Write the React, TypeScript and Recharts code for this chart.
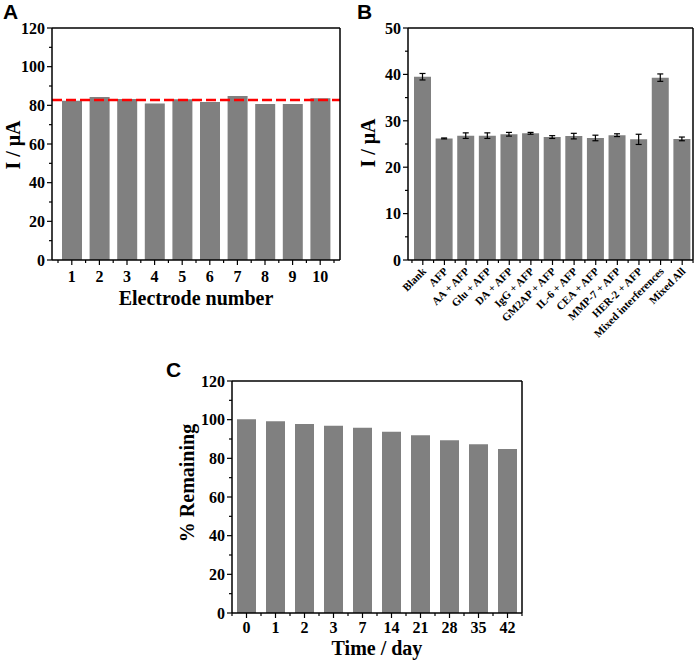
import { BarChart, Bar, XAxis, YAxis, ReferenceLine, ErrorBar } from 'recharts'

const electrodeLabels = ['1', '2', '3', '4', '5', '6', '7', '8', '9', '10']
const electrodeCurrent = [82.4, 84.3, 83.3, 81.0, 83.2, 81.7, 84.8, 80.7, 80.7, 83.6]
const averageCurrent = 82.7

const selectivityLabels = [
  'Blank', 'AFP', 'AA + AFP', 'Glu + AFP', 'DA + AFP', 'IgG + AFP', 'GM2AP + AFP',
  'IL-6 + AFP', 'CEA + AFP', 'MMP-7 + AFP', 'HER-2 + AFP', 'Mixed interferences', 'Mixed All',
]
const selectivityCurrent = [39.5, 26.2, 26.8, 26.8, 27.1, 27.3, 26.5, 26.7, 26.3, 26.9, 26.0, 39.3, 26.1]
const selectivityError = [0.7, 0.1, 0.6, 0.6, 0.4, 0.2, 0.3, 0.6, 0.6, 0.3, 1.1, 0.8, 0.4]

const stabilityDays = ['0', '1', '2', '3', '7', '14', '21', '28', '35', '42']
const stabilityRemaining = [100.2, 99.2, 97.8, 96.8, 95.8, 93.7, 92.0, 89.4, 87.3, 84.8]

const ticks120 = [0, 10, 20, 30, 40, 50, 60, 70, 80, 90, 100, 110, 120]
const ticks50 = [0, 5, 10, 15, 20, 25, 30, 35, 40, 45, 50]

const SERIF = '"Liberation Serif", "Times New Roman", serif'
const SANS = '"Liberation Sans", Arial, sans-serif'
const BAR = '#808080'
const AXIS = { stroke: '#000', strokeWidth: 1.5 }

const dataA = electrodeLabels.map((name, i) => ({ name, value: electrodeCurrent[i] }))
const dataB = selectivityLabels.map((name, i) => ({ name, value: selectivityCurrent[i], err: selectivityError[i] }))
const dataC = stabilityDays.map((name, i) => ({ name, value: stabilityRemaining[i] }))

// y ticks: long + label on major, short on minor
const yTick = (step: number) => (props: any) => {
  const { x, y, payload } = props
  const major = payload.value % step === 0
  return (
    <g>
      <line x1={x} x2={x - (major ? 5 : 3)} y1={y} y2={y} stroke="#000" strokeWidth={1.2} />
      {major && (
        <text x={x - 7} y={y} dy="0.36em" textAnchor="end" fontFamily={SERIF} fontWeight="bold" fontSize={16} fill="#000">
          {payload.value}
        </text>
      )}
    </g>
  )
}

// x ticks: major at the bar, minor half a band either side
const xTick = (band: number, count: number, labelDy: number, rotated = false) => (props: any) => {
  const { x, y, payload, index } = props
  return (
    <g>
      <line x1={x} x2={x} y1={y} y2={y + 5} stroke="#000" strokeWidth={1.2} />
      <line x1={x - band / 2} x2={x - band / 2} y1={y} y2={y + 3} stroke="#000" strokeWidth={1.2} />
      {index === count - 1 && (
        <line x1={x + band / 2} x2={x + band / 2} y1={y} y2={y + 3} stroke="#000" strokeWidth={1.2} />
      )}
      {rotated ? (
        <text
          x={x + 4}
          y={y + labelDy}
          textAnchor="end"
          transform={`rotate(-45, ${x + 4}, ${y + labelDy})`}
          fontFamily={SERIF}
          fontWeight="bold"
          fontSize={11}
          fill="#000"
        >
          {payload.value}
        </text>
      ) : (
        <text x={x} y={y + labelDy} textAnchor="middle" fontFamily={SERIF} fontWeight="bold" fontSize={16} fill="#000">
          {payload.value}
        </text>
      )}
    </g>
  )
}

export default function App() {
  return (
    <div style={{ position: 'absolute', left: 0, top: 0, width: 699, height: 663, background: '#fff' }}>
      <div style={{ position: 'absolute', left: 0, top: 0 }}>
        <BarChart width={350} height={320} data={dataA} margin={{ top: 27, right: 9, bottom: 0, left: 0 }}>
          <XAxis dataKey="name" height={60} padding={{ left: 6, right: 6 }} interval={0} tickSize={0} tickMargin={0}
            tickLine={false} axisLine={AXIS} tick={xTick(27.6, 10, 22)} />
          <YAxis width={52} domain={[0, 120]} ticks={ticks120} interval={0} tickSize={0} tickMargin={0}
            tickLine={false} axisLine={AXIS} tick={yTick(20)} />
          <XAxis xAxisId="top" orientation="top" dataKey="name" height={1} tick={false} tickLine={false} axisLine={AXIS} />
          <YAxis yAxisId="right" orientation="right" width={1} domain={[0, 120]} tick={false} tickLine={false} axisLine={AXIS} />
          <Bar dataKey="value" fill={BAR} barSize={20} isAnimationActive={false} />
          <ReferenceLine y={averageCurrent} stroke="#ff0000" strokeWidth={2.5} strokeDasharray="10 4" />
        </BarChart>
      </div>

      <div style={{ position: 'absolute', left: 350, top: 0 }}>
        <BarChart width={349} height={340} data={dataB} margin={{ top: 27, right: 5, bottom: 0, left: 0 }}>
          <XAxis dataKey="name" height={80} padding={{ left: 4, right: 0 }} interval={0} tickSize={0} tickMargin={0}
            tickLine={false} axisLine={AXIS} tick={xTick(21.7, 13, 12, true)} />
          <YAxis width={58} domain={[0, 50]} ticks={ticks50} interval={0} tickSize={0} tickMargin={0}
            tickLine={false} axisLine={AXIS} tick={yTick(10)} />
          <XAxis xAxisId="top" orientation="top" dataKey="name" height={1} tick={false} tickLine={false} axisLine={AXIS} />
          <YAxis yAxisId="right" orientation="right" width={1} domain={[0, 50]} tick={false} tickLine={false} axisLine={AXIS} />
          <Bar dataKey="value" fill={BAR} barSize={17} isAnimationActive={false}>
            <ErrorBar dataKey="err" width={3} stroke="#000" strokeWidth={1.2} />
          </Bar>
        </BarChart>
      </div>

      <div style={{ position: 'absolute', left: 180, top: 353 }}>
        <BarChart width={350} height={310} data={dataC} margin={{ top: 27, right: 7, bottom: 0, left: 0 }}>
          <XAxis dataKey="name" height={50} interval={0} tickSize={0} tickMargin={0}
            tickLine={false} axisLine={AXIS} tick={xTick(29, 10, 20)} />
          <YAxis width={52} domain={[0, 120]} ticks={ticks120} interval={0} tickSize={0} tickMargin={0}
            tickLine={false} axisLine={AXIS} tick={yTick(20)} />
          <XAxis xAxisId="top" orientation="top" dataKey="name" height={1} tick={false} tickLine={false} axisLine={AXIS} />
          <YAxis yAxisId="right" orientation="right" width={1} domain={[0, 120]} tick={false} tickLine={false} axisLine={AXIS} />
          <Bar dataKey="value" fill={BAR} barSize={19} isAnimationActive={false} />
        </BarChart>
      </div>

      <svg width={699} height={663} style={{ position: 'absolute', left: 0, top: 0, pointerEvents: 'none' }}>
        <g fontFamily={SANS} fontWeight="bold" fontSize={21} fill="#000">
          <text x={3} y={19}>A</text>
          <text x={357} y={19}>B</text>
          <text x={166} y={377}>C</text>
        </g>
        <g fontFamily={SERIF} fontWeight="bold" fontSize={20} fill="#000" textAnchor="middle">
          <text transform="translate(20,145) rotate(-90)">I / μA</text>
          <text transform="translate(375,143) rotate(-90)">I / μA</text>
          <text transform="translate(194,483) rotate(-90)">% Remaining</text>
          <text x={196} y={305}>Electrode number</text>
          <text x={377} y={655}>Time / day</text>
        </g>
      </svg>
    </div>
  )
}
